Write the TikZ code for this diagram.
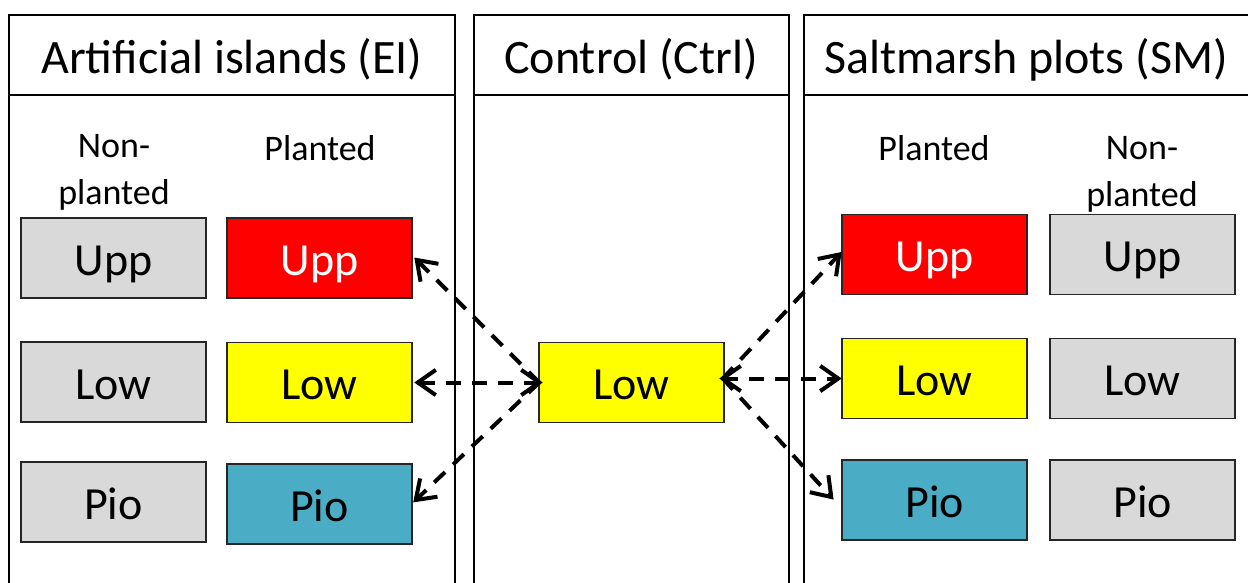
\documentclass[tikz,border=0pt]{standalone}
\usepackage{fontspec}
\setmainfont{Carlito}
\usetikzlibrary{calc}
\definecolor{boxgray}{HTML}{D9D9D9}
\definecolor{boxred}{HTML}{FF0000}
\definecolor{boxyellow}{HTML}{FFFF00}
\definecolor{boxteal}{HTML}{4BACC6}
\definecolor{edge}{HTML}{262626}
\tikzset{
  cell/.style={draw=edge, line width=1.5pt, minimum width=185pt, minimum height=80pt, inner sep=0pt, text height=34pt, text depth=0pt, font=\fontsize{46}{50}\selectfont},
  gray/.style={cell, fill=boxgray},
  redc/.style={cell, fill=boxred, text=white},
  yel/.style={cell, fill=boxyellow},
  teal/.style={cell, fill=boxteal},
  head/.style={inner sep=0pt, anchor=base, font=\fontsize{48}{54}\selectfont},
  lab/.style={inner sep=0pt, align=center, font=\fontsize{36}{47}\selectfont},
  panel/.style={line width=2pt, draw=black},
  dline/.style={line width=4pt, dash pattern=on 15pt off 11pt},
  tipline/.style={line width=4pt, line cap=butt, line join=miter}
}
\newcommand\mychev[2]{\draw[tipline] ($(#1)!22pt!35:(#2)$) -- (#1) -- ($(#1)!22pt!-35:(#2)$);}
\begin{document}
\begin{tikzpicture}[x=1pt,y=-1pt]
\useasboundingbox (0,0) rectangle (1248,583);
\clip (0,0) rectangle (1248,583);
% panels
\draw[panel] (9,600) -- (9,15) -- (455,15) -- (455,600);
\draw[panel] (9,95) -- (455,95);
\draw[panel] (474,600) -- (474,15) -- (789,15) -- (789,600);
\draw[panel] (474,95) -- (789,95);
\draw[panel] (804,600) -- (804,15) -- (1260,15);
\draw[panel] (804,95) -- (1260,95);
% headers
\node[head] (hEI) at (232,74) {Artificial islands (EI)};
\node[head] (hC) at (631,74) {Control (Ctrl)};
\node[head] (hSM) at (1026,74) {Saltmarsh plots (SM)};
% labels
\node[lab] (lEInp) at (114,172) {Non-\\planted};
\node[lab] (lEIp) at (320,148) {Planted};
\node[lab] (lSMp) at (934,148) {Planted};
\node[lab] (lSMnp) at (1142,174) {Non-\\planted};
% left boxes
\node[gray] (EnU) at (113.5,258) {Upp};
\node[gray] (EnL) at (113.5,382) {Low};
\node[gray] (EnP) at (113.5,502) {Pio};
\node[redc] (EU) at (319.5,258) {Upp};
\node[yel] (EL) at (319.5,382.5) {Low};
\node[teal] (EP) at (319.5,504) {Pio};
% control
\node[yel] (CL) at (631.5,382.5) {Low};
% right boxes
\node[redc] (SU) at (934.5,254.5) {Upp};
\node[yel] (SL) at (934.5,378.5) {Low};
\node[teal] (SP) at (934.5,500) {Pio};
\node[gray] (SnU) at (1142.5,254.5) {Upp};
\node[gray] (SnL) at (1142.5,378.5) {Low};
\node[gray] (SnP) at (1142.5,500) {Pio};
% connector end points
\coordinate (cw) at ([xshift=1pt]CL.west);
\coordinate (ce) at ([xshift=-2pt,yshift=4pt]CL.east);
\coordinate (tEU) at ([xshift=4pt,yshift=-2pt]EU.east);
\coordinate (tEL) at ([xshift=5pt]EL.east);
\coordinate (tEP) at ([xshift=3pt,yshift=4pt]EP.east);
\coordinate (tSU) at ([xshift=-2pt]SU.west);
\coordinate (tSL) at ([xshift=-3pt]SL.west);
\coordinate (tSP) at ([xshift=-10pt,yshift=3pt]SP.west);
% dashed connectors
\draw[dline] (cw) -- (tEL);
\draw[dline] (cw) -- (tEU);
\draw[dline] (cw) -- (tEP);
\draw[dline] (ce) -- (tSL);
\draw[dline] (ce) -- (tSU);
\draw[dline] (ce) -- (tSP);
% arrow heads
\mychev{tEL}{cw}
\mychev{cw}{tEL}
\mychev{tEU}{cw}
\mychev{tEP}{cw}
\mychev{tSL}{ce}
\mychev{ce}{tSL}
\mychev{tSU}{ce}
\mychev{tSP}{ce}
\end{tikzpicture}
\end{document}
